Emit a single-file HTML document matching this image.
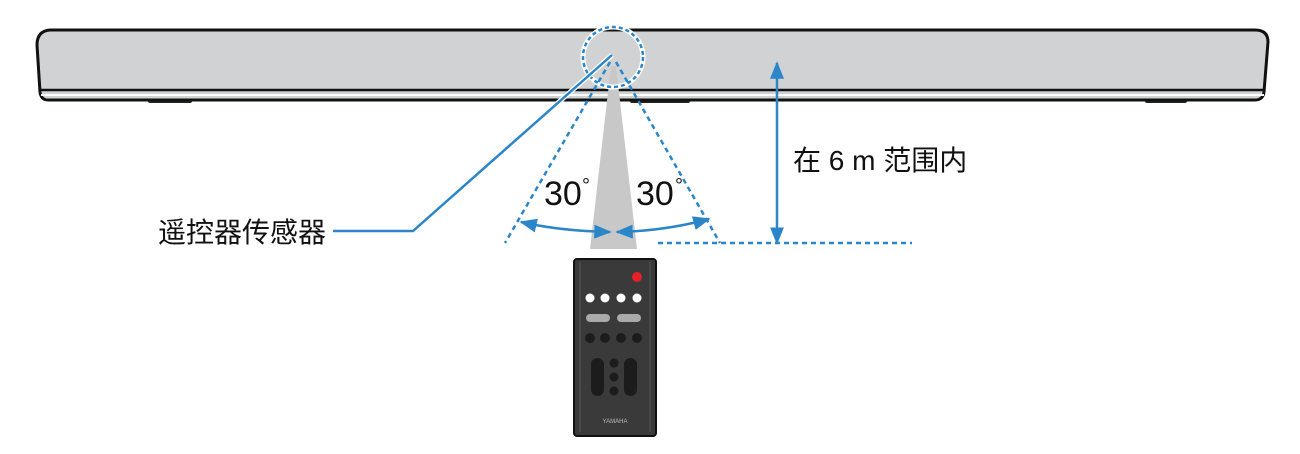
<!DOCTYPE html><html><head><style>body{margin:0;background:#fff}</style></head><body>
<svg width="1300" height="449" xmlns="http://www.w3.org/2000/svg" font-family="Liberation Sans, Noto Sans CJK SC, sans-serif">
<defs><marker id="a" viewBox="0 0 10 10" refX="9" refY="5" markerWidth="7" markerHeight="7" orient="auto-start-reverse"><path d="M0,1L10,5L0,9z" fill="#2a86c8"/></marker></defs>
<rect x="148" y="97" width="44" height="6" rx="2" fill="#222"/>
<rect x="630" y="97" width="60" height="6" rx="2" fill="#222"/>
<rect x="1145" y="97" width="42" height="6" rx="2" fill="#222"/>
<path d="M50,30 L1255,30 Q1268,30 1268,42 L1264,92 Q1263,100 1255,100 L48,100 Q41,100 40,92 L37,45 Q37,31 50,30Z" fill="#d1d2d4" stroke="#111" stroke-width="3"/>
<line x1="40" y1="90" x2="1265" y2="90" stroke="#111" stroke-width="2.5"/>
<line x1="41" y1="95" x2="1264" y2="95" stroke="#fff" stroke-width="2"/>
<polygon points="611,66 616,66 637,249 590,249" fill="#c8c8c8"/>
<circle cx="613" cy="57" r="30" fill="none" stroke="#fff" stroke-width="5"/>
<circle cx="613" cy="57" r="30" fill="none" stroke="#2a86c8" stroke-width="2.5" stroke-dasharray="4,3"/>
<line x1="610" y1="62" x2="505" y2="243" stroke="#2a86c8" stroke-width="2.5" stroke-dasharray="5,4"/>
<line x1="616" y1="62" x2="720" y2="243" stroke="#2a86c8" stroke-width="2.5" stroke-dasharray="5,4"/>
<line x1="658" y1="243" x2="912" y2="243" stroke="#2a86c8" stroke-width="2.5" stroke-dasharray="5,4"/>
<path d="M521,222 Q560,231 610,232" fill="none" stroke="#2a86c8" stroke-width="2.5" marker-start="url(#a)" marker-end="url(#a)"/>
<path d="M617,232 Q665,231 709,219" fill="none" stroke="#2a86c8" stroke-width="2.5" marker-start="url(#a)" marker-end="url(#a)"/>
<polyline points="612,55 413,231 333,231" fill="none" stroke="#fff" stroke-width="5"/>
<polyline points="612,55 413,231 333,231" fill="none" stroke="#2a86c8" stroke-width="2.5"/>
<line x1="777" y1="63" x2="777" y2="243" stroke="#2a86c8" stroke-width="2.5" marker-start="url(#a)" marker-end="url(#a)"/>
<text x="544" y="205" font-size="34" fill="#111">30</text><text x="582" y="192" font-size="20" fill="#111">°</text>
<text x="636" y="205" font-size="34" fill="#111">30</text><text x="675" y="192" font-size="20" fill="#111">°</text>
<text x="158" y="242" font-size="28" fill="#111">遥控器传感器</text>
<text x="793" y="170" font-size="28" fill="#111">在 6 m 范围内</text>
<rect x="574" y="259" width="82" height="177" rx="3" fill="#3a3a3a" stroke="#111" stroke-width="2"/>
<line x1="580" y1="262" x2="580" y2="432" stroke="#555"/>
<line x1="650" y1="262" x2="650" y2="432" stroke="#555"/>
<circle cx="637" cy="277" r="5" fill="#e8202a"/>
<g fill="#fff"><circle cx="590" cy="298" r="4.5"/><circle cx="605" cy="298" r="4.5"/><circle cx="621" cy="298" r="4.5"/><circle cx="637" cy="298" r="4.5"/></g>
<rect x="586" y="314" width="24" height="8" rx="4" fill="#aaa"/><rect x="617" y="314" width="24" height="8" rx="4" fill="#aaa"/>
<g fill="#1c1c1c"><circle cx="590" cy="338" r="5"/><circle cx="605" cy="338" r="5"/><circle cx="621" cy="338" r="5"/><circle cx="637" cy="338" r="5"/>
<rect x="591" y="358" width="13" height="38" rx="6.5"/><rect x="624" y="358" width="13" height="38" rx="6.5"/>
<circle cx="614" cy="363" r="4.5"/><circle cx="614" cy="377" r="4.5"/><circle cx="614" cy="391" r="4.5"/></g>
<text x="615" y="423" font-size="6" fill="#bbb" text-anchor="middle">YAMAHA</text>
</svg>
</body></html>
